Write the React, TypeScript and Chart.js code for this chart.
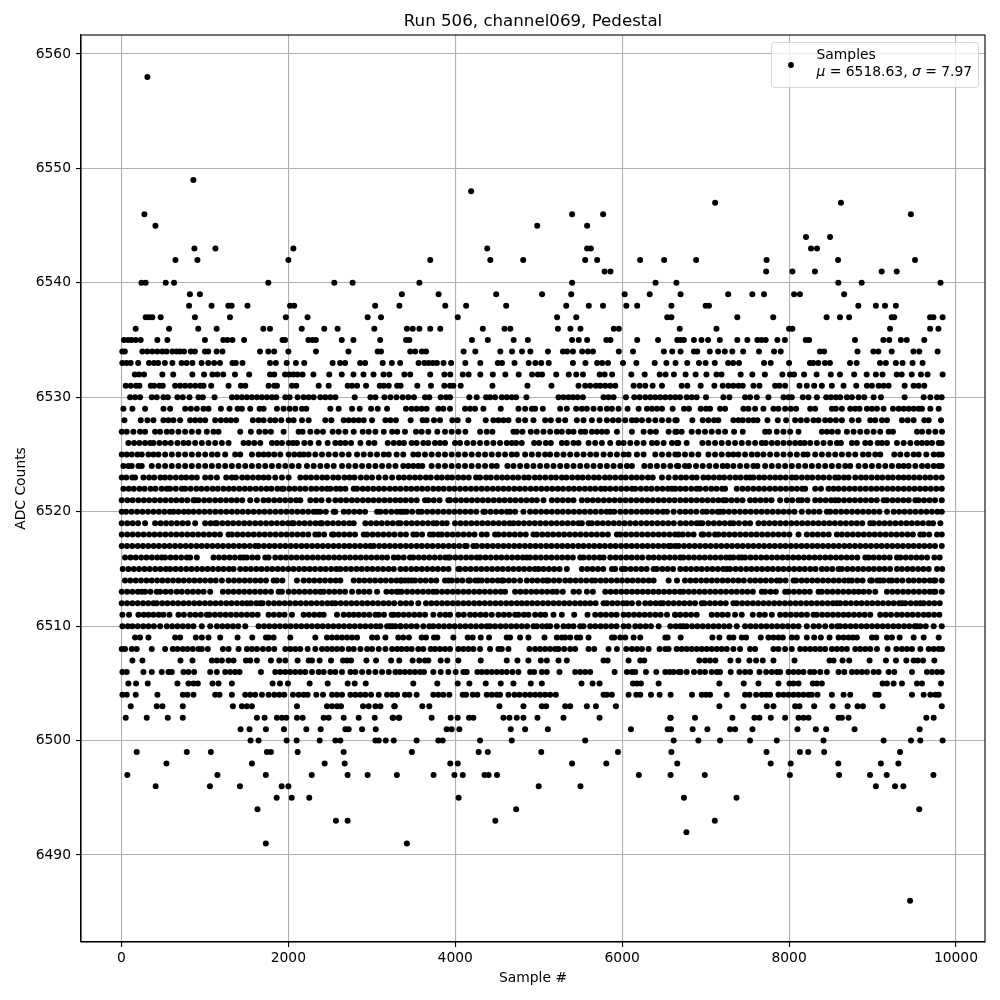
import React, { useEffect, useRef } from "react";
import { Chart, registerables } from "chart.js";

Chart.register(...registerables);

const xTicks = [0, 2000, 4000, 6000, 8000, 10000];
const yTicks = [6490, 6500, 6510, 6520, 6530, 6540, 6550, 6560];

// One list of sample numbers per ADC level.
// Separate dots, gaps and the ends of solid runs are read off by eye. Dots inside a solid run cannot be told
// apart: those values are NOT readings, they were typed at nearly even steps of about 65 samples to fill the run.
const lv6558 = [311];
const lv6549 = [862];
const lv6548 = [4190];
const lv6547 = [7114, 8622];
const lv6546 = [275, 5400, 5772, 9460];
const lv6545 = [407, 4982, 5580];
const lv6544 = [8203, 8491];
const lv6543 = [874, 1126, 2060, 4383, 5580, 5625, 8263, 8335];
const lv6542 = [647, 910, 2000, 3700, 4420, 4814, 5557, 5700, 6215, 6503, 6886, 7730, 8587, 9509];
const lv6541 = [5790, 5860, 7725, 8040, 8310, 9110, 9290];
const lv6540 = [240, 290, 530, 630, 1760, 2550, 2770, 3570, 5400, 6400, 6650, 8590, 8870, 9815];
const lv6539 = [820, 940, 3360, 3800, 4490, 5040, 6030, 6330, 6700, 7270, 7560, 7700, 8060, 8130, 8660, 5390];
const lv6538 = [810, 1080, 1280, 1320, 1510, 2020, 2070, 3040, 3330, 3880, 4130, 4610, 5330, 5600, 5770, 6050, 6180, 6590, 7000, 7040, 8830, 9040, 9150, 9280];
const lv6537 = [290, 330, 370, 470, 880, 1300, 1970, 2230, 2950, 3110, 4030, 5220, 5450, 6540, 6590, 7380, 7810, 8450, 8610, 8720, 9230, 9260, 9690, 9730, 9840];
const lv6536 = [170, 570, 920, 1140, 1700, 1780, 2160, 2430, 2590, 3030, 3420, 3490, 3570, 3700, 3820, 4330, 4590, 4660, 5230, 5380, 5500, 5900, 5960, 6690, 7130, 8040, 8000, 9210, 9690, 9790];
const lv6535 = [30, 80, 120, 170, 230, 430, 550, 1000, 1220, 1270, 1330, 1470, 1930, 1960, 2240, 2290, 2330, 2640, 2780, 3100, 3410, 3450, 4200, 4390, 4700, 4870, 5400, 5480, 5580, 5810, 5860, 6180, 6430, 6660, 6700, 6740, 6860, 6950, 7030, 7170, 7380, 7500, 7620, 7670, 7720, 7860, 7950, 8200, 8240, 8790, 9130, 9200, 9340, 9410, 9620];
const lv6534 = [10, 40, 250, 310, 370, 430, 490, 540, 610, 660, 700, 750, 830, 880, 1000, 1040, 1140, 1210, 1660, 1760, 1830, 2000, 2330, 2720, 3070, 3110, 3460, 3520, 3600, 3650, 4100, 4240, 4540, 4680, 4800, 4900, 5110, 5290, 5340, 5410, 5520, 5590, 5650, 5960, 6130, 6500, 6600, 6700, 6860, 6900, 7050, 7150, 7230, 7320, 7450, 7640, 7820, 7900, 8370, 8420, 8820, 9010, 9070, 9230, 9490, 9560, 9780];
const lv6533 = [10, 60, 110, 200, 330, 390, 440, 520, 610, 720, 780, 850, 960, 1040, 1110, 1180, 1330, 1370, 1450, 1780, 1850, 1980, 2090, 2190, 2530, 2620, 2680, 2860, 2920, 3130, 3240, 3340, 3560, 3630, 3680, 3730, 3780, 3860, 3950, 4120, 4300, 4510, 4560, 4710, 4880, 4960, 5030, 5120, 5410, 5560, 5700, 5760, 5830, 6010, 6170, 6390, 6530, 6640, 6780, 6920, 7000, 7110, 7270, 7330, 7400, 7700, 7780, 8000, 8250, 8290, 8350, 8430, 8490, 8730, 8810, 9090, 9160, 9280, 9360, 9480, 9600];
const lv6532 = [160, 210, 270, 490, 620, 850, 990, 1090, 1150, 1220, 1360, 1530, 1780, 1830, 1960, 2010, 2060, 2110, 2170, 2300, 2490, 2640, 2780, 2900, 3020, 3140, 3210, 3390, 3460, 3700, 3870, 3940, 4090, 4160, 4300, 4450, 4600, 4760, 4920, 4990, 5040, 5210, 5360, 5450, 5530, 5730, 5790, 5880, 6110, 6270, 6450, 6520, 6620, 6760, 6880, 7010, 7130, 7190, 7420, 7560, 7710, 7920, 8010, 8060, 8180, 8330, 8500, 8610, 8780, 8930, 9040, 9120, 9290, 9350, 9470, 9580, 9660, 9840];
const lv6531 = [51, 111, 175, 215, 351, 391, 455, 495, 643, 703, 763, 823, 883, 943, 983, 1075, 1283, 1431, 1483, 1763, 1831, 1863, 2043, 2095, 2363, 2483, 2711, 2763, 2823, 2931, 3095, 3143, 3203, 3303, 3345, 3545, 3709, 3869, 3937, 3977, 4065, 4445, 4865, 5153, 5477, 5557, 5617, 5685, 5737, 5797, 5857, 5917, 6137, 6209, 6277, 6365, 6477, 6713, 6781, 6941, 7105, 7205, 7273, 7333, 7393, 7445, 7573, 7645, 7833, 7885, 7953, 8125, 8213, 8301, 8393, 8513, 8653, 8805, 8933, 8993, 9073, 9133, 9193, 9385, 9493, 9553, 9621];
const lv6530 = [103, 163, 223, 363, 423, 503, 555, 671, 735, 815, 923, 975, 1115, 1323, 1383, 1443, 1503, 1563, 1623, 1683, 1743, 1803, 1855, 1963, 2015, 2111, 2183, 2243, 2303, 2383, 2443, 2503, 2563, 2795, 2983, 3043, 3151, 3223, 3295, 3369, 3437, 3505, 3637, 3689, 3825, 3889, 3937, 4169, 4257, 4369, 4417, 4477, 4557, 4617, 4677, 4729, 4853, 5237, 5297, 5357, 5409, 5465, 5529, 5777, 5837, 5897, 6045, 6145, 6209, 6277, 6337, 6397, 6457, 6517, 6577, 6637, 6693, 6773, 6833, 6893, 7005, 7213, 7285, 7473, 7533, 7613, 7753, 7933, 7993, 8033, 8165, 8233, 8333, 8445, 8501, 8561, 8613, 8693, 8753, 8833, 8901, 9013, 9101, 9385, 9613, 9693, 9773, 9829];
const lv6529 = [23, 131, 283, 503, 583, 763, 831, 903, 983, 1043, 1191, 1295, 1391, 1443, 1543, 1655, 1703, 1863, 1943, 2015, 2083, 2163, 2215, 2503, 2603, 2763, 2855, 2991, 3071, 3183, 3409, 3477, 3537, 3597, 3657, 3797, 3857, 3937, 4117, 4177, 4237, 4337, 4545, 4757, 4837, 4917, 4957, 5049, 5257, 5337, 5449, 5517, 5577, 5657, 5737, 5817, 5877, 5957, 6065, 6197, 6297, 6357, 6417, 6477, 6605, 6741, 6801, 6941, 7005, 7053, 7173, 7233, 7453, 7513, 7593, 7693, 7813, 7873, 7953, 8021, 8085, 8253, 8313, 8513, 8561, 8633, 8733, 8793, 8845, 8933, 8993, 9053, 9133, 9245, 9313, 9373, 9433, 9493, 9553, 9593, 9693, 9793];
const lv6528 = [35, 231, 311, 383, 503, 563, 623, 703, 823, 883, 943, 1003, 1123, 1191, 1255, 1311, 1375, 1575, 1643, 1703, 1783, 1843, 1915, 2003, 2063, 2163, 2243, 2443, 2515, 2663, 2723, 2783, 2843, 2903, 3003, 3163, 3223, 3289, 3465, 3609, 3657, 3745, 3817, 3965, 4029, 4157, 4365, 4457, 4517, 4577, 4637, 4757, 4837, 4937, 5077, 5145, 5237, 5317, 5457, 5537, 5637, 5729, 5817, 5889, 5957, 6037, 6117, 6169, 6237, 6317, 6397, 6477, 6557, 6637, 6653, 6841, 6965, 7033, 7101, 7153, 7333, 7393, 7445, 7513, 7573, 7621, 7741, 7865, 7965, 8073, 8141, 8213, 8293, 8353, 8433, 8493, 8561, 8633, 8753, 8833, 8973, 9033, 9113, 9173, 9353, 9421, 9493, 9621, 9673, 9821];
const lv6527 = [3, 63, 143, 223, 283, 403, 463, 543, 603, 683, 763, 843, 923, 1023, 1103, 1163, 1423, 1551, 1651, 1723, 1791, 1943, 2123, 2171, 2263, 2343, 2415, 2531, 2603, 2683, 2783, 2891, 2963, 3043, 3143, 3243, 3305, 3397, 3529, 3597, 3677, 3785, 3877, 3957, 4037, 4121, 4297, 4377, 4445, 4697, 4737, 4805, 4905, 4977, 5057, 5137, 5217, 5277, 5357, 5417, 5505, 5557, 5637, 5697, 5757, 5817, 5937, 6117, 6257, 6337, 6405, 6557, 6637, 6653, 6713, 6833, 6913, 6993, 7073, 7153, 7233, 7341, 7445, 7713, 7761, 7853, 7933, 8013, 8113, 8393, 8453, 8513, 8585, 8693, 8773, 8853, 8933, 9013, 9093, 9193, 9245, 9533, 9593, 9673, 9753, 9833];
const lv6526 = [83, 151, 215, 283, 343, 383, 455, 523, 591, 671, 743, 803, 883, 963, 1043, 1123, 1203, 1283, 1463, 1523, 1591, 1663, 1803, 1863, 1923, 2003, 2055, 2103, 2191, 2263, 2363, 2471, 2563, 2623, 2683, 2751, 2863, 2963, 3031, 3191, 3263, 3329, 3385, 3477, 3537, 3617, 3677, 3757, 3817, 3877, 3997, 4057, 4141, 4217, 4297, 4377, 4457, 4537, 4617, 4677, 4729, 4797, 4945, 5005, 5085, 5145, 5277, 5337, 5417, 5477, 5597, 5677, 5757, 5857, 5957, 6017, 6097, 6177, 6257, 6357, 6417, 6497, 6597, 6657, 6673, 6773, 6961, 7033, 7113, 7193, 7273, 7353, 7433, 7513, 7593, 7673, 7721, 7793, 7861, 7933, 8005, 8073, 8133, 8185, 8253, 8333, 8413, 8493, 8573, 8621, 8753, 8813, 8913, 8973, 9061, 9113, 9173, 9293, 9373, 9453, 9533, 9593, 9653, 9713, 9793, 9830];
const lv6525 = [3, 63, 123, 191, 243, 323, 383, 443, 523, 603, 683, 763, 843, 923, 1003, 1083, 1151, 1243, 1363, 1423, 1563, 1643, 1703, 1763, 1831, 1903, 2003, 2071, 2135, 2183, 2243, 2323, 2403, 2483, 2563, 2643, 2723, 2823, 2903, 2983, 3063, 3143, 3203, 3297, 3377, 3497, 3557, 3637, 3717, 3797, 3877, 3957, 4037, 4117, 4197, 4277, 4357, 4437, 4517, 4597, 4677, 4737, 4837, 4917, 4997, 5077, 5137, 5217, 5297, 5377, 5457, 5537, 5617, 5689, 5777, 5857, 5937, 6017, 6077, 6177, 6257, 6397, 6477, 6557, 6637, 6673, 6753, 6833, 6913, 7033, 7113, 7193, 7273, 7333, 7393, 7473, 7553, 7621, 7693, 7773, 7853, 7933, 8013, 8093, 8173, 8221, 8313, 8393, 8473, 8553, 8633, 8713, 8793, 8885, 8953, 9033, 9093, 9261, 9333, 9413, 9493, 9553, 9645, 9733, 9793, 9830];
const lv6524 = [23, 83, 123, 203, 243, 363, 443, 523, 603, 683, 763, 843, 923, 1003, 1083, 1163, 1243, 1323, 1403, 1483, 1563, 1643, 1723, 1803, 1883, 1963, 2043, 2123, 2223, 2303, 2383, 2463, 2543, 2643, 2723, 2803, 2883, 2963, 3043, 3123, 3203, 3283, 3377, 3437, 3497, 3557, 3605, 3717, 3797, 3877, 3957, 4037, 4117, 4197, 4277, 4357, 4437, 4497, 4625, 4697, 4777, 4857, 4937, 5017, 5097, 5177, 5257, 5337, 5417, 5497, 5577, 5657, 5737, 5817, 5897, 5977, 6057, 6117, 6265, 6337, 6417, 6497, 6577, 6657, 6673, 6753, 6801, 6885, 6965, 7045, 7125, 7205, 7261, 7333, 7413, 7493, 7573, 7621, 7713, 7793, 7873, 7953, 8033, 8113, 8193, 8273, 8353, 8433, 8513, 8593, 8673, 8733, 8833, 8913, 8993, 9073, 9153, 9233, 9313, 9373, 9433, 9513, 9593, 9661, 9733, 9793, 9830];
const lv6523 = [3, 58, 129, 163, 263, 331, 392, 467, 521, 583, 651, 718, 775, 842, 903, 1003, 1069, 1143, 1255, 1322, 1371, 1446, 1508, 1575, 1641, 1703, 1763, 1843, 1923, 2003, 2143, 2209, 2271, 2338, 2406, 2463, 2537, 2598, 2671, 2733, 2792, 2868, 2937, 3003, 3083, 3163, 3243, 3323, 3385, 3452, 3517, 3579, 3648, 3706, 3781, 3839, 3907, 3962, 4035, 4098, 4162, 4249, 4297, 4369, 4426, 4497, 4562, 4623, 4691, 4754, 4826, 4881, 4953, 5012, 5079, 5148, 5206, 5277, 5332, 5401, 5468, 5527, 5594, 5662, 5721, 5793, 5851, 5917, 5986, 6043, 6112, 6174, 6238, 6309, 6366, 6477, 6557, 6637, 6704, 6765, 6837, 6892, 6973, 7033, 7098, 7164, 7222, 7291, 7358, 7419, 7487, 7533, 7573, 7641, 7702, 7771, 7834, 7896, 7961, 8033, 8085, 8153, 8219, 8278, 8349, 8412, 8481, 8553, 8593, 8658, 8713, 8793, 8862, 8921, 8989, 9057, 9118, 9186, 9243, 9312, 9373, 9433, 9498, 9563, 9631, 9692, 9761, 9830];
const lv6522 = [23, 87, 148, 216, 277, 349, 408, 481, 543, 583, 651, 723, 763, 829, 897, 958, 1024, 1092, 1153, 1221, 1286, 1347, 1412, 1478, 1541, 1609, 1672, 1738, 1796, 1868, 1923, 1943, 2011, 2076, 2141, 2203, 2274, 2335, 2402, 2463, 2503, 2571, 2623, 2683, 2783, 2823, 2891, 2952, 3018, 3084, 3147, 3216, 3279, 3343, 3411, 3472, 3539, 3603, 3668, 3736, 3798, 3861, 3929, 3991, 4057, 4122, 4188, 4251, 4317, 4382, 4449, 4513, 4578, 4641, 4707, 4772, 4836, 4903, 4967, 5032, 5097, 5162, 5228, 5291, 5359, 5422, 5486, 5553, 5616, 5677, 5745, 5797, 5857, 5924, 5988, 6053, 6117, 6157, 6224, 6289, 6351, 6419, 6483, 6549, 6597, 6637, 6697, 6761, 6828, 6893, 6933, 7002, 7068, 7131, 7198, 7233, 7373, 7441, 7506, 7572, 7638, 7701, 7769, 7833, 7898, 7963, 8031, 8094, 8158, 8193, 8313, 8382, 8473, 8533, 8593, 8659, 8724, 8788, 8853, 8918, 8984, 9048, 9113, 9179, 9243, 9308, 9374, 9438, 9503, 9569, 9633, 9698, 9764, 9830];
const lv6521 = [3, 71, 134, 202, 268, 331, 397, 463, 528, 594, 658, 723, 789, 863, 883, 923, 991, 1054, 1122, 1187, 1253, 1318, 1382, 1447, 1543, 1623, 1703, 1763, 1831, 1896, 1962, 2028, 2093, 2143, 2263, 2331, 2397, 2483, 2563, 2628, 2693, 2761, 2824, 2892, 2957, 3021, 3086, 3152, 3217, 3283, 3343, 3406, 3472, 3538, 3637, 3677, 3742, 3811, 3917, 3937, 4003, 4069, 4133, 4198, 4264, 4329, 4394, 4461, 4526, 4591, 4657, 4722, 4788, 4853, 4918, 4977, 5057, 5157, 5223, 5288, 5354, 5417, 5517, 5583, 5648, 5713, 5779, 5844, 5909, 5975, 6041, 6106, 6171, 6237, 6302, 6367, 6433, 6498, 6564, 6628, 6697, 6762, 6827, 6893, 6958, 7024, 7089, 7154, 7213, 7245, 7311, 7376, 7442, 7533, 7593, 7658, 7723, 7789, 7893, 7973, 8038, 8113, 8153, 8219, 8313, 8373, 8438, 8503, 8553, 8593, 8659, 8724, 8789, 8854, 8919, 8985, 9051, 9133, 9173, 9239, 9304, 9369, 9434, 9513, 9553, 9618, 9684, 9749, 9830];
const lv6520 = [3, 55, 121, 187, 252, 318, 383, 449, 514, 579, 623, 683, 748, 803, 863, 929, 994, 1059, 1125, 1191, 1256, 1322, 1387, 1452, 1518, 1584, 1649, 1714, 1779, 1845, 1911, 1976, 2042, 2108, 2173, 2238, 2304, 2343, 2383, 2449, 2543, 2563, 2663, 2723, 2789, 2854, 2919, 3063, 3103, 3168, 3234, 3299, 3343, 3377, 3417, 3483, 3557, 3597, 3663, 3728, 3793, 3859, 3924, 3989, 4055, 4121, 4186, 4252, 4337, 4357, 4423, 4489, 4554, 4619, 4657, 4717, 4817, 4897, 4962, 5028, 5093, 5158, 5224, 5289, 5355, 5421, 5486, 5552, 5617, 5682, 5748, 5813, 5857, 5905, 5977, 6043, 6108, 6174, 6239, 6297, 6357, 6423, 6489, 6537, 6617, 6693, 6758, 6823, 6889, 6965, 7013, 7079, 7144, 7173, 7213, 7279, 7344, 7411, 7476, 7541, 7607, 7672, 7737, 7803, 7869, 7934, 7999, 8065, 8153, 8233, 8298, 8364, 8453, 8493, 8559, 8624, 8689, 8755, 8821, 8886, 8952, 9017, 9083, 9173, 9253, 9318, 9383, 9449, 9515, 9581, 9646, 9712, 9777, 9830];
const lv6519 = [3, 69, 134, 199, 283, 403, 469, 534, 599, 665, 731, 796, 883, 1003, 1069, 1123, 1143, 1209, 1274, 1339, 1405, 1471, 1536, 1602, 1667, 1733, 1798, 1863, 1929, 1994, 2043, 2063, 2129, 2194, 2259, 2325, 2383, 2403, 2469, 2534, 2599, 2665, 2731, 2783, 2923, 2989, 3054, 3119, 3185, 3251, 3316, 3343, 3412, 3478, 3543, 3609, 3674, 3737, 3777, 3843, 3897, 3997, 4063, 4128, 4193, 4259, 4324, 4389, 4455, 4521, 4586, 4651, 4697, 4757, 4823, 4888, 4953, 5019, 5085, 5151, 5216, 5281, 5347, 5412, 5477, 5517, 5597, 5637, 5703, 5768, 5833, 5899, 5964, 6029, 6095, 6161, 6227, 6292, 6357, 6423, 6488, 6553, 6619, 6697, 6763, 6828, 6893, 6933, 6961, 7033, 7099, 7164, 7229, 7293, 7333, 7399, 7473, 7533, 7633, 7699, 7764, 7829, 7895, 7961, 8027, 8092, 8157, 8223, 8288, 8353, 8419, 8484, 8549, 8615, 8681, 8747, 8812, 8877, 8973, 9013, 9079, 9144, 9209, 9275, 9341, 9406, 9471, 9537, 9603, 9673, 9725, 9813];
const lv6518 = [3, 69, 134, 199, 265, 331, 396, 461, 527, 593, 658, 723, 789, 854, 919, 985, 1051, 1116, 1181, 1283, 1323, 1389, 1454, 1519, 1585, 1651, 1716, 1781, 1847, 1913, 1978, 2043, 2109, 2174, 2239, 2323, 2363, 2429, 2523, 2543, 2603, 2669, 2734, 2799, 2903, 2943, 3009, 3074, 3139, 3205, 3271, 3343, 3409, 3497, 3537, 3603, 3697, 3737, 3797, 3837, 3903, 3968, 4033, 4099, 4165, 4231, 4317, 4377, 4477, 4517, 4583, 4648, 4713, 4779, 4845, 4937, 4977, 5043, 5108, 5173, 5239, 5305, 5371, 5436, 5501, 5567, 5632, 5697, 5763, 5829, 5937, 5977, 6043, 6108, 6173, 6239, 6305, 6371, 6436, 6501, 6567, 6633, 6677, 6725, 6791, 6856, 6953, 6973, 7039, 7113, 7153, 7219, 7284, 7349, 7415, 7481, 7546, 7611, 7677, 7743, 7808, 7873, 7939, 8004, 8113, 8213, 8279, 8344, 8409, 8475, 8573, 8633, 8699, 8764, 8829, 8895, 8961, 9026, 9091, 9157, 9223, 9288, 9353, 9419, 9484, 9573, 9613, 9679, 9773, 9830];
const lv6517 = [3, 66, 129, 195, 258, 321, 386, 449, 514, 577, 642, 705, 770, 833, 898, 961, 1026, 1089, 1154, 1217, 1282, 1345, 1410, 1473, 1538, 1603, 1643, 1708, 1773, 1836, 1901, 1964, 2029, 2092, 2157, 2220, 2285, 2348, 2413, 2476, 2541, 2604, 2669, 2732, 2797, 2860, 2925, 2983, 3023, 3088, 3151, 3216, 3279, 3343, 3409, 3472, 3537, 3600, 3665, 3728, 3793, 3856, 3921, 3984, 4049, 4117, 4137, 4217, 4257, 4322, 4385, 4450, 4513, 4578, 4641, 4706, 4769, 4834, 4897, 4962, 5025, 5090, 5153, 5218, 5281, 5346, 5409, 5474, 5537, 5602, 5665, 5730, 5793, 5858, 5921, 5986, 6049, 6114, 6177, 6242, 6305, 6370, 6433, 6498, 6557, 6585, 6637, 6677, 6742, 6805, 6870, 6933, 6998, 7061, 7126, 7189, 7254, 7317, 7382, 7445, 7510, 7573, 7638, 7701, 7766, 7829, 7894, 7957, 8022, 8085, 8150, 8213, 8278, 8341, 8406, 8469, 8534, 8597, 8662, 8725, 8790, 8853, 8918, 8981, 9046, 9109, 9174, 9237, 9302, 9365, 9430, 9493, 9558, 9621, 9686, 9749, 9830];
const lv6516 = [43, 108, 171, 236, 299, 364, 427, 483, 523, 588, 651, 716, 783, 823, 903, 1103, 1168, 1231, 1296, 1359, 1424, 1463, 1503, 1568, 1631, 1723, 1763, 1843, 1908, 1971, 2036, 2099, 2164, 2227, 2292, 2355, 2420, 2483, 2548, 2611, 2676, 2739, 2804, 2867, 2932, 2995, 3060, 3123, 3183, 3263, 3317, 3382, 3457, 3497, 3562, 3625, 3690, 3753, 3818, 3881, 3917, 3937, 4002, 4065, 4130, 4193, 4257, 4297, 4362, 4425, 4490, 4553, 4618, 4681, 4746, 4809, 4857, 4897, 4962, 5025, 5090, 5153, 5218, 5281, 5346, 5409, 5497, 5537, 5602, 5665, 5730, 5777, 5857, 5922, 5985, 6050, 6113, 6178, 6241, 6317, 6377, 6442, 6505, 6570, 6633, 6697, 6733, 6798, 6861, 6926, 6989, 7054, 7117, 7182, 7245, 7293, 7333, 7398, 7433, 7473, 7538, 7601, 7666, 7729, 7794, 7857, 7922, 7985, 8050, 8113, 8178, 8241, 8306, 8369, 8434, 8497, 8562, 8625, 8690, 8753, 8818, 8913, 8953, 9013, 9078, 9141, 9206, 9293, 9333, 9398, 9461, 9526, 9589, 9654, 9741, 9805];
const lv6515 = [15, 83, 148, 211, 276, 339, 404, 467, 532, 583, 648, 711, 776, 839, 904, 967, 1032, 1095, 1160, 1223, 1288, 1343, 1423, 1488, 1551, 1616, 1679, 1744, 1807, 1872, 1935, 2000, 2063, 2128, 2191, 2256, 2319, 2384, 2447, 2512, 2575, 2623, 2688, 2751, 2816, 2879, 2944, 3007, 3072, 3135, 3200, 3263, 3343, 3407, 3472, 3535, 3600, 3663, 3728, 3791, 3856, 3919, 4037, 4057, 4122, 4185, 4250, 4313, 4378, 4441, 4506, 4569, 4634, 4697, 4762, 4825, 4890, 4953, 4997, 5057, 5122, 5185, 5250, 5337, 5517, 5582, 5645, 5710, 5773, 5877, 5917, 5997, 6037, 6102, 6165, 6230, 6293, 6377, 6417, 6482, 6545, 6610, 6697, 6762, 6825, 6890, 6953, 7018, 7081, 7146, 7209, 7253, 7293, 7358, 7421, 7486, 7549, 7614, 7677, 7742, 7805, 7870, 7933, 7998, 8061, 8126, 8189, 8254, 8317, 8393, 8453, 8518, 8593, 8633, 8698, 8761, 8826, 8889, 8954, 9017, 9082, 9145, 9210, 9293, 9353, 9418, 9481, 9546, 9609, 9674, 9773, 9835];
const lv6514 = [43, 106, 171, 234, 299, 362, 427, 490, 555, 618, 683, 746, 811, 874, 939, 1002, 1067, 1130, 1203, 1283, 1348, 1411, 1476, 1539, 1604, 1667, 1732, 1823, 1863, 1928, 2103, 2183, 2248, 2311, 2376, 2439, 2504, 2567, 2623, 2783, 2848, 2911, 2976, 3039, 3104, 3167, 3232, 3295, 3343, 3357, 3397, 3437, 3477, 3517, 3582, 3645, 3710, 3773, 3877, 3917, 3957, 4022, 4085, 4157, 4177, 4242, 4277, 4317, 4382, 4445, 4510, 4557, 4577, 4642, 4705, 4777, 4857, 4922, 4985, 5050, 5097, 5117, 5182, 5245, 5317, 5377, 5442, 5505, 5570, 5637, 5677, 5742, 5805, 5870, 5937, 5997, 6062, 6125, 6190, 6253, 6318, 6377, 6557, 6657, 6753, 6818, 6881, 6946, 7009, 7074, 7137, 7202, 7265, 7330, 7393, 7458, 7533, 7593, 7658, 7721, 7786, 7853, 7893, 7958, 8053, 8085, 8150, 8213, 8278, 8341, 8406, 8469, 8534, 8597, 8662, 8713, 8753, 8818, 8881, 8973, 8993, 9058, 9093, 9133, 9198, 9233, 9293, 9358, 9433, 9493, 9558, 9621, 9686, 9733, 9753, 9830];
const lv6513 = [3, 68, 131, 196, 243, 283, 348, 423, 463, 528, 591, 663, 723, 791, 856, 919, 984, 1063, 1215, 1280, 1343, 1408, 1471, 1536, 1599, 1664, 1727, 1792, 1883, 1923, 2003, 2068, 2131, 2196, 2259, 2324, 2383, 2423, 2488, 2551, 2616, 2679, 2763, 2843, 2908, 2971, 3063, 3175, 3238, 3297, 3323, 3357, 3422, 3485, 3550, 3613, 3678, 3737, 3777, 3842, 3905, 3970, 4033, 4098, 4161, 4226, 4289, 4354, 4417, 4482, 4545, 4597, 4717, 4782, 4845, 4910, 4973, 5038, 5101, 5166, 5217, 5289, 5417, 5482, 5577, 5649, 5797, 5862, 5925, 5990, 6053, 6118, 6181, 6246, 6309, 6374, 6437, 6502, 6565, 6630, 6693, 6733, 6798, 6861, 6926, 6989, 7054, 7117, 7182, 7245, 7310, 7373, 7438, 7501, 7566, 7673, 7713, 7778, 7841, 7953, 7993, 8058, 8121, 8186, 8249, 8353, 8393, 8458, 8521, 8586, 8649, 8714, 8777, 8833, 8893, 8958, 9033, 9173, 9238, 9301, 9366, 9429, 9494, 9557, 9622, 9685, 9733, 9753, 9830];
const lv6512 = [3, 66, 131, 194, 259, 322, 383, 423, 488, 551, 616, 679, 744, 807, 872, 935, 1000, 1063, 1128, 1191, 1256, 1319, 1384, 1447, 1503, 1551, 1616, 1663, 1691, 1763, 1828, 1891, 1956, 2019, 2084, 2147, 2212, 2275, 2340, 2403, 2468, 2523, 2563, 2628, 2691, 2756, 2819, 2884, 2947, 3012, 3075, 3140, 3203, 3268, 3343, 3408, 3471, 3557, 3649, 3714, 3777, 3842, 3905, 3970, 4033, 4098, 4161, 4226, 4289, 4354, 4417, 4482, 4545, 4610, 4673, 4738, 4797, 4857, 4922, 4985, 5050, 5113, 5178, 5241, 5306, 5369, 5434, 5497, 5557, 5617, 5682, 5777, 5817, 5882, 5945, 6010, 6057, 6117, 6197, 6277, 6337, 6402, 6457, 6489, 6554, 6617, 6682, 6745, 6810, 6873, 6953, 6985, 7050, 7113, 7178, 7241, 7333, 7373, 7438, 7501, 7566, 7629, 7694, 7757, 7822, 7885, 7950, 8013, 8078, 8141, 8206, 8269, 8334, 8397, 8462, 8525, 8573, 8613, 8678, 8741, 8806, 8869, 8934, 8997, 9062, 9125, 9190, 9253, 9318, 9353, 9393, 9458, 9521, 9573, 9613, 9678, 9741, 9806];
const lv6511 = [11, 91, 203, 266, 323, 383, 446, 503, 575, 683, 748, 823, 886, 951, 1023, 1055, 1120, 1183, 1248, 1311, 1376, 1439, 1504, 1567, 1632, 1763, 1826, 1891, 1954, 2043, 2183, 2246, 2311, 2374, 2423, 2583, 2663, 2726, 2783, 2843, 2906, 2971, 3043, 3083, 3146, 3263, 3237, 3317, 3382, 3445, 3510, 3573, 3638, 3737, 3817, 3882, 3937, 4037, 4102, 4177, 4237, 4302, 4365, 4437, 4517, 4582, 4645, 4717, 4757, 4822, 4877, 4957, 5022, 5077, 5177, 5277, 5425, 5585, 5677, 5742, 5805, 5870, 5933, 6017, 6077, 6142, 6205, 6270, 6333, 6398, 6461, 6537, 6637, 6697, 6633, 6762, 6825, 6893, 7073, 7138, 7201, 7266, 7353, 7433, 7565, 7645, 7710, 7793, 7893, 7958, 8021, 8086, 8149, 8214, 8293, 8333, 8398, 8461, 8526, 8589, 8653, 8713, 8778, 8841, 8906, 8973, 9093, 9158, 9221, 9293, 9353, 9418, 9481, 9546, 9613, 9673, 9738, 9801];
const lv6510 = [11, 76, 131, 195, 260, 323, 388, 463, 543, 608, 671, 736, 799, 863, 963, 1063, 1143, 1208, 1271, 1336, 1399, 1483, 1643, 1708, 1771, 1836, 1899, 1964, 2027, 2092, 2155, 2220, 2283, 2348, 2411, 2476, 2539, 2604, 2667, 2732, 2795, 2860, 2923, 2988, 3051, 3103, 3183, 3248, 3343, 3217, 3282, 3345, 3410, 3473, 3538, 3617, 3689, 3737, 3802, 3865, 3930, 3993, 4058, 4121, 4186, 4249, 4314, 4377, 4417, 4477, 4542, 4605, 4670, 4733, 4798, 4861, 4937, 4977, 5042, 5097, 5137, 5217, 5297, 5357, 5417, 5497, 5537, 5617, 5677, 5742, 5805, 5870, 5933, 6017, 6077, 6157, 6217, 6282, 6345, 6437, 6577, 6642, 6697, 6733, 6773, 6838, 6901, 6966, 7029, 7094, 7157, 7222, 7285, 7373, 7473, 7538, 7601, 7666, 7729, 7794, 7857, 7922, 7985, 8050, 8113, 8213, 8293, 8358, 8433, 8513, 8578, 8613, 8673, 8738, 8801, 8866, 8929, 8994, 9057, 9122, 9185, 9250, 9313, 9378, 9441, 9506, 9533, 9573, 9638, 9733, 9830];
const lv6509 = [163, 223, 323, 643, 703, 891, 963, 1043, 1183, 1391, 1567, 1731, 1763, 1823, 2023, 2323, 2463, 2523, 2583, 2643, 2703, 2763, 2823, 3003, 3063, 3163, 3317, 3377, 3445, 3597, 3649, 3745, 3785, 3977, 4149, 4209, 4305, 4405, 4617, 4657, 4777, 4877, 5069, 5217, 5277, 5317, 5377, 5457, 5497, 5597, 5877, 5905, 5977, 6037, 6137, 6217, 6517, 6545, 6701, 7081, 7165, 7285, 7333, 7433, 7485, 7661, 7753, 7813, 7873, 7925, 8033, 8093, 8213, 8301, 8381, 8485, 8593, 8653, 8713, 8765, 8813, 8993, 9045, 9173, 9233, 9325, 9493, 9613, 9793];
const lv6508 = [3, 43, 123, 183, 363, 523, 615, 671, 735, 791, 855, 923, 963, 1035, 1215, 1283, 1403, 1503, 1563, 1623, 1695, 1763, 1831, 1963, 2023, 2083, 2143, 2231, 2323, 2403, 2463, 2523, 2583, 2643, 2723, 2783, 2863, 2943, 3003, 3083, 3163, 3243, 3303, 3357, 3417, 3477, 3557, 3617, 3705, 3757, 3817, 3877, 3937, 4037, 4097, 4157, 4217, 4297, 4417, 4517, 4557, 4637, 4889, 4957, 5017, 5077, 5137, 5197, 5237, 5305, 5377, 5437, 5597, 5665, 5837, 5937, 6049, 6117, 6177, 6237, 6317, 6449, 6517, 6557, 6653, 6713, 6773, 6833, 6893, 6953, 7013, 7073, 7133, 7193, 7253, 7333, 7413, 7533, 7593, 7813, 7873, 7953, 8033, 8133, 8193, 8253, 8313, 8373, 8433, 8513, 8573, 8633, 8693, 8793, 8853, 8913, 8973, 9053, 9181, 9285, 9353, 9413, 9473, 9573, 9673, 9733, 9793, 9833];
const lv6507 = [131, 251, 707, 851, 1083, 1143, 1203, 1283, 1343, 1491, 1543, 1623, 1791, 1891, 1963, 2111, 2243, 2283, 2375, 2511, 2655, 2703, 2751, 2935, 3051, 3231, 3329, 3489, 3569, 3637, 3677, 3825, 3905, 4037, 4305, 4617, 4745, 4877, 5025, 5097, 5237, 5337, 5777, 5825, 6077, 6217, 6265, 6925, 6993, 7053, 7117, 7297, 7393, 7525, 7605, 7685, 7813, 8065, 8485, 8533, 8641, 8721, 8965, 9161, 9281, 9405, 9493, 9541, 9605, 9741];
const lv6506 = [11, 63, 263, 363, 483, 563, 603, 743, 803, 871, 1063, 1143, 1243, 1303, 1363, 1415, 1671, 1843, 1903, 1963, 2023, 2083, 2143, 2203, 2283, 2363, 2423, 2503, 2563, 2643, 2743, 2803, 2883, 2963, 3043, 3123, 3203, 3283, 3337, 3397, 3457, 3517, 3577, 3625, 3737, 3825, 3917, 4005, 4097, 4137, 4265, 4317, 4377, 4437, 4497, 4557, 4617, 4685, 4757, 4897, 4945, 5037, 5097, 5249, 5437, 5497, 5557, 5617, 5909, 6057, 6117, 6157, 6285, 6409, 6517, 6569, 6617, 6677, 6701, 6773, 6861, 6933, 6993, 7073, 7133, 7173, 7301, 7405, 7473, 7533, 7645, 7725, 7793, 7853, 7893, 7993, 8053, 8113, 8173, 8253, 8301, 8373, 8453, 8593, 8661, 8753, 8813, 8873, 8933, 9013, 9073, 9193, 9261, 9473, 9653, 9713, 9773, 9830];
const lv6505 = [83, 175, 315, 671, 803, 863, 915, 1091, 1163, 1323, 1811, 1899, 1995, 2255, 2471, 2711, 2795, 2927, 3497, 3785, 4029, 4169, 4365, 4545, 4697, 4905, 5037, 5513, 5645, 5729, 6129, 6177, 6225, 6437, 7165, 7457, 7633, 7873, 8005, 8053, 8113, 8285, 8333, 8393, 9121, 9173, 9253, 9353, 9533, 9593, 9821];
const lv6504 = [11, 63, 171, 431, 735, 791, 863, 1123, 1175, 1323, 1483, 1543, 1603, 1683, 1763, 1831, 1891, 1951, 2055, 2123, 2183, 2231, 2335, 2415, 2523, 2583, 2643, 2743, 2803, 2863, 2923, 2991, 3083, 3183, 3243, 3303, 3397, 3449, 3537, 3737, 3797, 3857, 3929, 4089, 4129, 4209, 4265, 4377, 4437, 4497, 4537, 4637, 4709, 4769, 4837, 4897, 4957, 5017, 5077, 5137, 5205, 5777, 5817, 5877, 6077, 6169, 6217, 6345, 6449, 6581, 6837, 6953, 7005, 7053, 7253, 7473, 7525, 7605, 7673, 7725, 7773, 7873, 7933, 7993, 8053, 8113, 8173, 8233, 8273, 8341, 8513, 8653, 8733, 9033, 9073, 9473, 9613, 9693, 9753, 9793];
const lv6503 = [111, 423, 491, 735, 1335, 1443, 1503, 1563, 2103, 2463, 2523, 2583, 2631, 2895, 2963, 3043, 3103, 3275, 3269, 3605, 3689, 4529, 4817, 5037, 5089, 5317, 5377, 5577, 5685, 5925, 7165, 7453, 7733, 7813, 8073, 8125, 8301, 8521, 8701, 8821, 8885, 9121, 9830];
const lv6502 = [51, 303, 555, 735, 1623, 1715, 1863, 1923, 1975, 2103, 2171, 2423, 2483, 2663, 2843, 3035, 3255, 3323, 3249, 3329, 3717, 3945, 4029, 4165, 4217, 4577, 4649, 4737, 4817, 4985, 5297, 5729, 6577, 6581, 6873, 7321, 7585, 7645, 7781, 7953, 8113, 8173, 8233, 8593, 8633, 8713, 9645, 9733];
const lv6501 = [1427, 1535, 1731, 1947, 2215, 2387, 2683, 2723, 2883, 3047, 3897, 3957, 4049, 4665, 4837, 5109, 6105, 6545, 6585, 6845, 7021, 7293, 7353, 7561, 8101, 8321, 8445, 8785, 9565];
const lv6500 = [1547, 1643, 1979, 2099, 2375, 2563, 2623, 3043, 3083, 3167, 3263, 3537, 3797, 3849, 4297, 4677, 5557, 6617, 6913, 7173, 7533, 7853, 8413, 9133, 9461, 9573, 9840];
const lv6499 = [183, 783, 1071, 1743, 1791, 2111, 2663, 3480, 4280, 4390, 5030, 5950, 6590, 7730, 8130, 8230, 8420, 9330];
const lv6498 = [539, 1563, 2435, 2675, 3940, 4030, 5400, 5810, 6660, 7780, 8020, 8590, 9100, 9310];
const lv6497 = [70, 1150, 1730, 2280, 2710, 2950, 3300, 3740, 3990, 4090, 4350, 4400, 4500, 6200, 6580, 6990, 8010, 8600, 8970, 9170, 9730];
const lv6496 = [410, 1060, 1420, 1920, 2000, 5000, 5500, 9040, 9270, 9370];
const lv6495 = [1860, 2040, 2250, 4040, 6740, 7370];
const lv6494 = [1630, 4730, 9560];
const lv6493 = [2570, 2710, 4480, 7110];
const lv6492 = [6770];
const lv6491 = [1730, 3420];
const lv6486 = [9450];

const levels: [number, number[]][] = [
  [6558, lv6558], [6549, lv6549], [6548, lv6548], [6547, lv6547], [6546, lv6546], [6545, lv6545], [6544, lv6544], [6543, lv6543],
  [6542, lv6542], [6541, lv6541], [6540, lv6540], [6539, lv6539], [6538, lv6538], [6537, lv6537], [6536, lv6536], [6535, lv6535],
  [6534, lv6534], [6533, lv6533], [6532, lv6532], [6531, lv6531], [6530, lv6530], [6529, lv6529], [6528, lv6528], [6527, lv6527],
  [6526, lv6526], [6525, lv6525], [6524, lv6524], [6523, lv6523], [6522, lv6522], [6521, lv6521], [6520, lv6520], [6519, lv6519],
  [6518, lv6518], [6517, lv6517], [6516, lv6516], [6515, lv6515], [6514, lv6514], [6513, lv6513], [6512, lv6512], [6511, lv6511],
  [6510, lv6510], [6509, lv6509], [6508, lv6508], [6507, lv6507], [6506, lv6506], [6505, lv6505], [6504, lv6504], [6503, lv6503],
  [6502, lv6502], [6501, lv6501], [6500, lv6500], [6499, lv6499], [6498, lv6498], [6497, lv6497], [6496, lv6496], [6495, lv6495],
  [6494, lv6494], [6493, lv6493], [6492, lv6492], [6491, lv6491], [6486, lv6486],
];

const FONT = '"DejaVu Sans"';

const framePlugin = {
  id: "frame",
  afterDatasetsDraw(chart: any) {
    const { ctx, chartArea: a } = chart;
    ctx.save();
    ctx.strokeStyle = "#000";
    ctx.lineWidth = 1.1;
    ctx.strokeRect(a.left, a.top, a.right - a.left, a.bottom - a.top);
    ctx.restore();
  },
};

const legendPlugin = {
  id: "sampleLegend",
  afterDraw(chart: any) {
    const { ctx } = chart;
    ctx.save();
    ctx.beginPath();
    ctx.roundRect(771.5, 42.5, 207, 45, 3);
    ctx.fillStyle = "rgba(255,255,255,0.8)";
    ctx.fill();
    ctx.strokeStyle = "rgba(204,204,204,0.8)";
    ctx.lineWidth = 1;
    ctx.stroke();
    ctx.fillStyle = "#000";
    ctx.beginPath();
    ctx.arc(791, 65, 2.9, 0, Math.PI * 2);
    ctx.fill();
    ctx.textBaseline = "alphabetic";
    ctx.textAlign = "left";
    ctx.font = `13.89px ${FONT}`;
    ctx.fillText("Samples", 816.5, 59);
    const parts: [string, boolean][] = [
      ["μ", true],
      [" = 6518.63, ", false],
      ["σ", true],
      [" = 7.97", false],
    ];
    let x = 816.5;
    for (const [text, italic] of parts) {
      ctx.font = `${italic ? "italic " : ""}13.89px ${FONT}`;
      ctx.fillText(text, x, 76);
      x += ctx.measureText(text).width;
    }
    ctx.restore();
  },
};

export default function App() {
  const ref = useRef<HTMLCanvasElement>(null);
  useEffect(() => {
    const points = levels.flatMap(([y, xs]) => xs.map((x) => ({ x, y })));
    const chart = new Chart(ref.current!, {
      type: "scatter",
      data: {
        datasets: [
          {
            label: "Samples",
            data: points,
            pointRadius: 3,
            pointBorderWidth: 0,
            pointBackgroundColor: "#000",
            showLine: false,
          },
        ],
      },
      plugins: [framePlugin, legendPlugin],
      options: {
        animation: false,
        responsive: false,
        events: [],
        layout: { padding: { left: 0, right: 15, top: 0, bottom: 0 } },
        plugins: {
          legend: { display: false },
          tooltip: { enabled: false },
          title: {
            display: true,
            text: "Run 506, channel069, Pedestal",
            fullSize: false,
            color: "#000",
            font: { family: FONT, size: 16.67, weight: "normal", lineHeight: 1.2 },
            padding: { top: 12, bottom: 3 },
          },
        },
        scales: {
          x: {
            type: "linear",
            min: -485,
            max: 10348,
            afterBuildTicks(s: any) {
              s.ticks = xTicks.map((value) => ({ value }));
            },
            afterFit(s: any) {
              s.height = 58;
            },
            grid: { color: "#b0b0b0", lineWidth: 1.1, tickColor: "#000", tickWidth: 1.1, tickLength: 5 },
            border: { color: "#000", width: 1.1 },
            ticks: {
              color: "#000",
              font: { family: FONT, size: 13.89 },
              padding: 3,
              maxRotation: 0,
              callback: (v: any) => String(v),
            },
            title: {
              display: true,
              text: "Sample #",
              color: "#000",
              font: { family: FONT, size: 13.89 },
              padding: { top: 0, bottom: 13 },
            },
          },
          y: {
            type: "linear",
            min: 6482.4,
            max: 6561.66,
            afterBuildTicks(s: any) {
              s.ticks = yTicks.map((value) => ({ value }));
            },
            afterFit(s: any) {
              s.width = 81;
            },
            grid: { color: "#b0b0b0", lineWidth: 1.1, tickColor: "#000", tickWidth: 1.1, tickLength: 5 },
            border: { color: "#000", width: 1.1 },
            ticks: {
              color: "#000",
              font: { family: FONT, size: 13.89 },
              padding: 5,
              callback: (v: any) => String(v),
            },
            title: {
              display: true,
              text: "ADC Counts",
              color: "#000",
              font: { family: FONT, size: 13.89 },
              padding: { top: 13, bottom: 0 },
            },
          },
        },
      },
    } as any);
    return () => chart.destroy();
  }, []);
  return (
    <canvas
      ref={ref}
      width={1000}
      height={1000}
      style={{ position: "absolute", left: 0, top: 0, display: "block" }}
    />
  );
}
